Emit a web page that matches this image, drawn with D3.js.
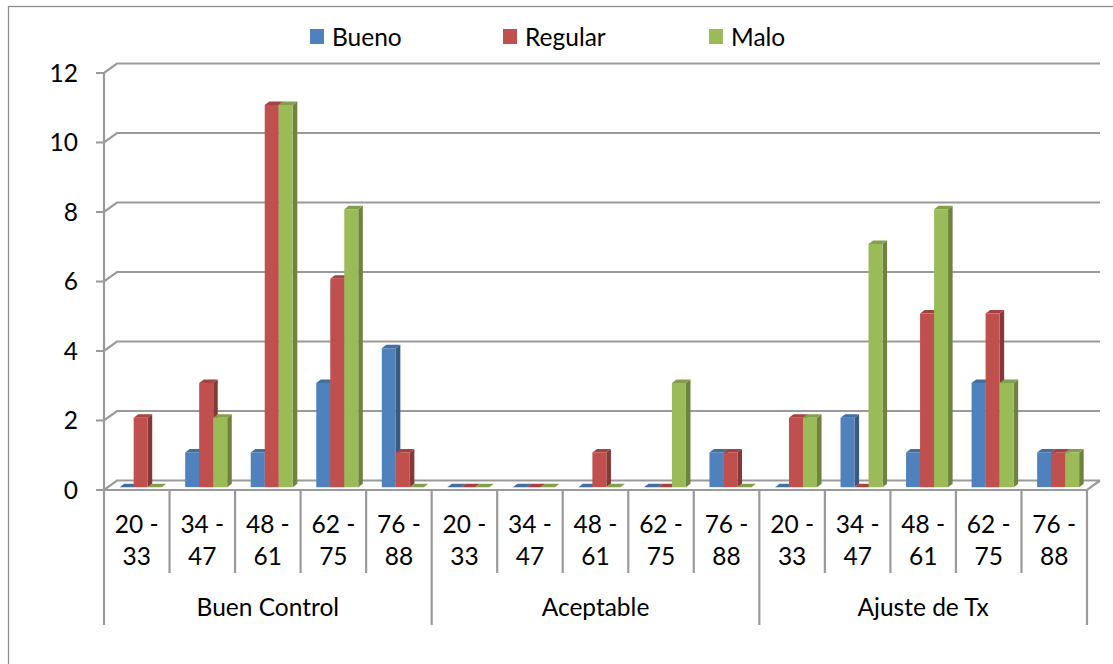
<!DOCTYPE html>
<html>
<head>
<meta charset="utf-8">
<script src="https://cdn.jsdelivr.net/npm/d3@7"></script>
<style>
  html, body { margin: 0; padding: 0; background: #fff; }
  svg { display: block; font-family: Lato, "Open Sans", sans-serif; }
</style>
</head>
<body>
<svg id="chart" width="1113" height="664"></svg>
<script>
// Age ranges within each control group
const categories = ["20 - 33", "34 - 47", "48 - 61", "62 - 75", "76 - 88"];
const groups = ["Buen Control", "Aceptable", "Ajuste de Tx"];
const seriesNames = ["Bueno", "Regular", "Malo"];
const seriesColors = ["#4F81BD", "#C0504D", "#9BBB59"];

// Counts, one per age range, groups in order
const bueno   = [0, 1, 1, 3, 4,   0, 0, 0, 0, 1,   0, 2, 1, 3, 1];
const regular = [2, 3, 11, 6, 1,  0, 0, 1, 0, 1,   2, 0, 5, 5, 1];
const malo    = [0, 2, 11, 8, 0,  0, 0, 0, 3, 0,   2, 7, 8, 3, 1];
const yTicks  = [0, 2, 4, 6, 8, 10, 12];

const seriesValues = [bueno, regular, malo];

const svg = d3.select("#chart");
const FONT = 24.5;
const gridColor = "#9a9a9a";

// Plot box (front plane) and 3D depth offset
const left = 104, right = 1087, baseY = 490, topY = 73;
const DX = 13, DY = 9.5;

const keys = [];
groups.forEach((g, gi) => categories.forEach((c, ci) => keys.push(gi + "|" + ci)));

const x = d3.scaleBand().domain(keys).range([left, right]).padding(0);
const y = d3.scaleLinear().domain([0, 12]).range([baseY, topY]);
const xs = d3.scaleBand().domain(seriesNames).range([0, x.bandwidth()])
  .paddingInner(0).paddingOuter(0.84);

// project a point at front-plane (px, value) and depth z in [0,1]
const P = (px, v, z) => [px + z * DX, y(v) - z * DY];

// Outer chart border
svg.append("rect").attr("x", 8.5).attr("y", 6.5).attr("width", 1200).attr("height", 800)
  .attr("fill", "none").attr("stroke", "#8e8e8e").attr("stroke-width", 1.3);

// Back-wall gridlines with their diagonal and tick
const grid = svg.append("g").attr("stroke", gridColor).attr("stroke-width", 2.2).attr("fill", "none");
yTicks.forEach(t => {
  const a = P(left, t, 0), b = P(left, t, 1), c = P(right, t, 1);
  grid.append("path").attr("d", `M${left - 8},${a[1]}L${a[0]},${a[1]}L${b[0]},${b[1]}L${c[0]},${c[1]}`);
});

// Floor front edge and right edge
{
  const a = P(left, 0, 0), b = P(right, 0, 0), c = P(right, 0, 1);
  grid.append("path").attr("d", `M${a[0]},${a[1]}L${b[0]},${b[1]}L${c[0]},${c[1]}`);
}
// Value axis line
grid.append("line").attr("x1", left).attr("x2", left).attr("y1", y(12)).attr("y2", baseY);

// Y tick labels
svg.append("g").selectAll("text").data(yTicks).join("text")
  .attr("x", 78).attr("y", d => y(d)).attr("dy", "0.36em")
  .attr("text-anchor", "end").attr("font-size", FONT).attr("fill", "#000")
  .text(d => d);

// 3D columns
const zFront = 0.3, zBack = 0.65;
const bars = svg.append("g");
keys.forEach((k, i) => {
  seriesNames.forEach((s, si) => {
    const v = seriesValues[si][i];
    const x0 = x(k) + xs(s), x1 = x0 + xs.bandwidth();
    const col = d3.color(seriesColors[si]);
    const side = col.darker(1.0).toString();
    const top = col.darker(0.45).toString();
    const f00 = P(x0, 0, zFront), f10 = P(x1, 0, zFront);
    const f01 = P(x0, v, zFront), f11 = P(x1, v, zFront);
    const b11 = P(x1, v, zBack), b10 = P(x1, 0, zBack), b01 = P(x0, v, zBack);
    const poly = pts => "M" + pts.map(p => p.join(",")).join("L") + "Z";
    bars.append("path").attr("d", poly([f10, b10, b11, f11])).attr("fill", side);
    bars.append("path").attr("d", poly([f01, f11, b11, b01])).attr("fill", top);
    bars.append("path").attr("d", poly([f00, f10, f11, f01])).attr("fill", col.toString());
  });
});

// Category dividers (short) and group dividers (long)
const div = svg.append("g").attr("stroke", gridColor).attr("stroke-width", 2.2);
for (let i = 0; i <= keys.length; i++) {
  const px = i < keys.length ? x(keys[i]) : right;
  const isGroup = i % categories.length === 0;
  div.append("line").attr("x1", px).attr("x2", px)
    .attr("y1", baseY).attr("y2", isGroup ? 625 : 573);
}

// Category labels (two lines)
const lab = svg.append("g").attr("font-size", FONT).attr("fill", "#000").attr("text-anchor", "middle");
keys.forEach(k => {
  const ci = +k.split("|")[1];
  const parts = categories[ci].split(" - ");
  const cx = x(k) + x.bandwidth() / 2;
  lab.append("text").attr("x", cx).attr("y", 533).text(parts[0] + " -");
  lab.append("text").attr("x", cx).attr("y", 565).text(parts[1]);
});
// Group labels
groups.forEach((g, gi) => {
  const a = x(gi + "|0"), b = x(gi + "|" + (categories.length - 1)) + x.bandwidth();
  lab.append("text").attr("x", (a + b) / 2).attr("y", 616).text(g);
});

// Legend
const legX = [310, 503, 709];
const leg = svg.append("g");
seriesNames.forEach((s, si) => {
  leg.append("rect").attr("x", legX[si]).attr("y", 29).attr("width", 14).attr("height", 15)
    .attr("fill", seriesColors[si]);
  leg.append("text").attr("x", legX[si] + 22).attr("y", 37).attr("dy", "0.36em")
    .attr("font-size", FONT).attr("fill", "#000").text(s);
});
</script>
</body>
</html>
